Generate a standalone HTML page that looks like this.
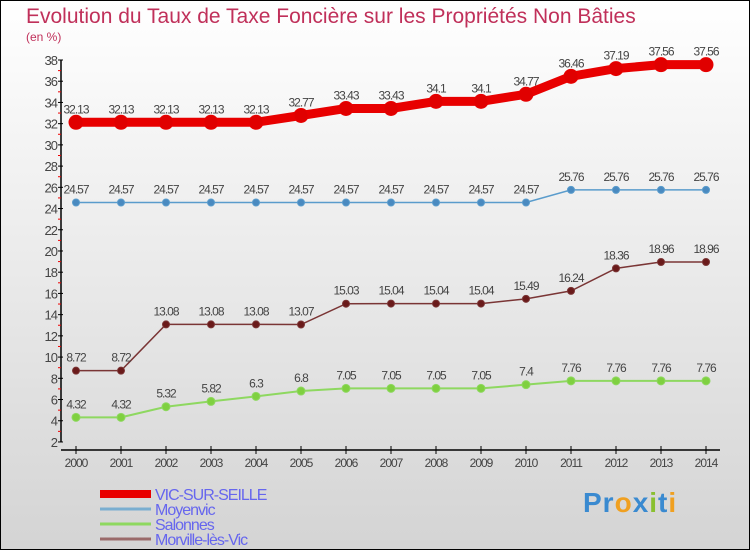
<!DOCTYPE html>
<html><head><meta charset="utf-8"><style>
body{margin:0}
#wrap{width:750px;height:550px;position:relative;box-sizing:border-box;border:1px solid #000;background:linear-gradient(#fff,#d4d4d4);overflow:hidden;font-family:"Liberation Sans",sans-serif}
</style></head><body>
<div id="wrap">
<svg id="chart" width="750" height="550" style="position:absolute;left:-1px;top:-1px">
<text x="26" y="23" font-size="21" fill="#c0305a">Evolution du Taux de Taxe Foncière sur les Propriétés Non Bâties</text>
<text x="26" y="41" font-size="12" fill="#c0305a">(en %)</text>
<g id="axes"></g><g id="series"></g><g id="legend"></g>
</svg></div>
<script>
const years=[2000,2001,2002,2003,2004,2005,2006,2007,2008,2009,2010,2011,2012,2013,2014];
const vic=[32.13,32.13,32.13,32.13,32.13,32.77,33.43,33.43,34.1,34.1,34.77,36.46,37.19,37.56,37.56];
const moyenvic=[24.57,24.57,24.57,24.57,24.57,24.57,24.57,24.57,24.57,24.57,24.57,25.76,25.76,25.76,25.76];
const salonnes=[4.32,4.32,5.32,5.82,6.3,6.8,7.05,7.05,7.05,7.05,7.4,7.76,7.76,7.76,7.76];
const morville=[8.72,8.72,13.08,13.08,13.08,13.07,15.03,15.04,15.04,15.04,15.49,16.24,18.36,18.96,18.96];
const yTicks=[2,4,6,8,10,12,14,16,18,20,22,24,26,28,30,32,34,36,38];
const seriesNames=["VIC-SUR-SEILLE","Moyenvic","Salonnes","Morville-lès-Vic"];
const NS="http://www.w3.org/2000/svg";
const X=i=>76+i*45, Y=v=>60+(38-v)*10.61;
function mk(tag,attrs,parent){const e=document.createElementNS(NS,tag);for(const k in attrs)e.setAttribute(k,attrs[k]);parent.appendChild(e);return e;}
const axes=document.getElementById('axes'),ser=document.getElementById('series'),leg=document.getElementById('legend');
let a=mk('line',{x1:61,y1:Y(38),x2:61,y2:Y(2),stroke:'#000','stroke-width':1.5},axes);

a=mk('line',{x1:61,y1:450,x2:720,y2:450,stroke:'#000','stroke-width':1.5},axes);

yTicks.forEach(v=>{mk('line',{x1:58,y1:Y(v),x2:63,y2:Y(v),stroke:'#000'},axes);
 if(v<38)mk('line',{x1:58,y1:Y(v+1),x2:61,y2:Y(v+1),stroke:'#e00'},axes);
 const t=mk('text',{x:57,y:Y(v)+5,'font-size':13,fill:'#444','text-anchor':'end','letter-spacing':'-1'},axes);t.textContent=v;
 });
years.forEach((y,i)=>{mk('line',{x1:X(i),y1:446,x2:X(i),y2:454,stroke:'#000'},axes);
 const t=mk('text',{x:X(i),y:467,'font-size':12,fill:'#444','text-anchor':'middle','letter-spacing':'-1'},axes);t.textContent=y;
 });
function draw(vals,line,fill,w,r,name){
 const p=mk('polyline',{points:vals.map((v,i)=>X(i)+','+Y(v)).join(' '),fill:'none',stroke:line,'stroke-width':w},ser);
 
 vals.forEach((v,i)=>{const c=mk('circle',{cx:X(i),cy:Y(v),r:r,fill:fill,stroke:line,'stroke-width':1},ser);
  
  const t=mk('text',{x:X(i),y:Y(v)-9,'font-size':12,fill:'#444','text-anchor':'middle','letter-spacing':'-1'},ser);t.textContent=v;
  });
}
draw(salonnes,'#8ed860','#7fd040',2,4,'salonnes');
draw(morville,'#7a3535','#6a1a1a',1.5,3.5,'morville');
draw(moyenvic,'#5a9ccc','#4a8ac0',1.5,3.5,'moyenvic');
draw(vic,'#e80000','#e00000',9,7,'vic-sur-seille');
const legCol=['#e80000','#7aaed0','#8ed860','#9a6a6a'],legW=[8,3,3,3];
seriesNames.forEach((n,i)=>{const y=494+i*15;
 const l=mk('line',{x1:100,y1:y,x2:151,y2:y,stroke:legCol[i],'stroke-width':legW[i]},leg);
 
 const t=mk('text',{x:155,y:y+6,'font-size':16,fill:'#6666ee','letter-spacing':'-1'},leg);t.textContent=n;
 });
</script>
<div style="position:absolute;left:583px;top:487px;font:bold 28px 'Liberation Sans',sans-serif;letter-spacing:1px"><span style="color:#3a8ad0">Pr</span><span style="color:#f0a020">o</span><span style="color:#3a8ad0">x</span><span style="color:#8ac030">i</span><span style="color:#3a8ad0">t</span><span style="color:#f0a020">i</span></div>
</body></html>
